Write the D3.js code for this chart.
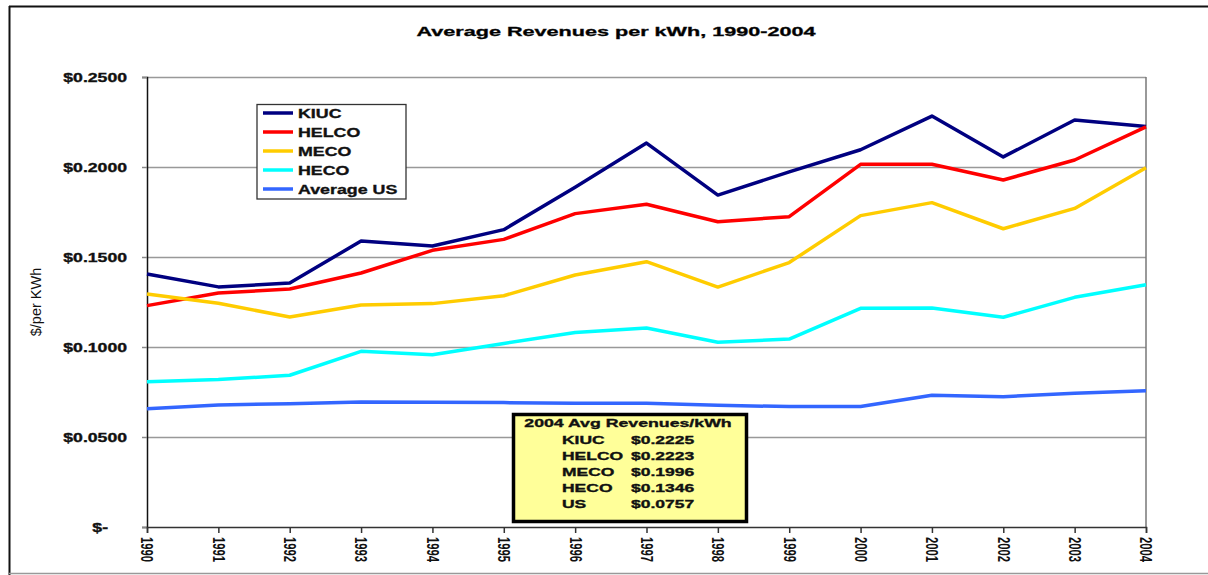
<!DOCTYPE html>
<html>
<head>
<meta charset="utf-8">
<script src="https://cdn.jsdelivr.net/npm/d3@7"></script>
<style>
  body { margin: 0; background: #fff; }
  svg { display: block; font-family: "Liberation Sans", Arial, sans-serif; }
  .heavy { stroke: #111; stroke-width: 0.35px; }
</style>
</head>
<body>
<div id="chart"></div>
<script>
// Data
const years = ["1990", "1991", "1992", "1993", "1994", "1995", "1996", "1997", "1998", "1999", "2000", "2001", "2002", "2003", "2004"];
const kiuc  = [0.1406, 0.1334, 0.1355, 0.1589, 0.1561, 0.1652, 0.1887, 0.2133, 0.1844, 0.1973, 0.2096, 0.2283, 0.2056, 0.2261, 0.2225];
const helco = [0.1230, 0.1300, 0.1322, 0.1411, 0.1537, 0.1598, 0.1741, 0.1793, 0.1696, 0.1724, 0.2015, 0.2015, 0.1928, 0.2039, 0.2223];
const meco  = [0.1294, 0.1243, 0.1167, 0.1233, 0.1241, 0.1285, 0.1400, 0.1474, 0.1333, 0.1469, 0.1730, 0.1802, 0.1657, 0.1770, 0.1996];
const heco  = [0.0807, 0.0819, 0.0843, 0.0976, 0.0957, 0.1020, 0.1080, 0.1106, 0.1026, 0.1044, 0.1215, 0.1217, 0.1165, 0.1276, 0.1346];
const usAvg = [0.0657, 0.0678, 0.0685, 0.0694, 0.0693, 0.0691, 0.0688, 0.0687, 0.0676, 0.0669, 0.0669, 0.0732, 0.0724, 0.0743, 0.0757];

const seriesNames = ["KIUC", "HELCO", "MECO", "HECO", "Average US"];
const seriesColors = ["#000080", "#FF0000", "#FFCC00", "#00FFFF", "#3366FF"];
const seriesValues = [kiuc, helco, meco, heco, usAvg];

const yTicks = [0, 0.05, 0.10, 0.15, 0.20, 0.25];
const yTickLabels = ["$-", "$0.0500", "$0.1000", "$0.1500", "$0.2000", "$0.2500"];

const boxTitle = "2004 Avg Revenues/kWh";
const boxNames = ["KIUC", "HELCO", "MECO", "HECO", "US"];
const boxValues = ["$0.2225", "$0.2223", "$0.1996", "$0.1346", "$0.0757"];

// Layout
const W = 1208, H = 575;
const margin = { top: 77, left: 147 };
const width = 999, height = 450;

const svg = d3.select("#chart").append("svg").attr("width", W).attr("height", H);
svg.append("rect").attr("width", W).attr("height", H).attr("fill", "#fff");

// stretch text horizontally the way the reference does
function stretch(sel, k) {
    sel.each(function() {
        const len = this.getComputedTextLength();
        d3.select(this).attr("textLength", len * k).attr("lengthAdjust", "spacingAndGlyphs");
    });
}

// outer frame
svg.append("line").attr("x1", 9.5).attr("x2", 9.5).attr("y1", 6).attr("y2", H).attr("stroke", "#111").attr("stroke-width", 2);
svg.append("line").attr("x1", 9).attr("x2", W).attr("y1", 6.5).attr("y2", 6.5).attr("stroke", "#111").attr("stroke-width", 2);
svg.append("line").attr("x1", 9).attr("x2", W).attr("y1", 573.5).attr("y2", 573.5).attr("stroke", "#999").attr("stroke-width", 1.5);

// title
svg.append("text").attr("class", "heavy").attr("x", 616).attr("y", 36).attr("text-anchor", "middle")
    .style("font-size", "13.5px").style("font-weight", "bold").text("Average Revenues per kWh, 1990-2004")
    .call(stretch, 1.6);

const g = svg.append("g").attr("transform", `translate(${margin.left},${margin.top})`);

const x = d3.scalePoint().domain(years).range([0, width]);
const y = d3.scaleLinear().domain([0, 0.25]).range([height, 0]);

// gridlines
g.append("g")
    .call(d3.axisLeft(y).tickValues(yTicks.slice(1)).tickSize(-width).tickFormat(""))
    .call(a => a.select(".domain").remove())
    .call(a => a.selectAll(".tick line").attr("stroke", "#999").attr("stroke-width", 1.5));

// right plot border
g.append("line").attr("x1", width).attr("x2", width).attr("y1", 0).attr("y2", height)
    .attr("stroke", "#777").attr("stroke-width", 1.5);

// y axis
const yAxis = g.append("g")
    .call(d3.axisLeft(y).tickValues(yTicks).tickSize(5).tickPadding(15).tickFormat((d, i) => yTickLabels[i]));
yAxis.select(".domain").attr("stroke", "#111").attr("stroke-width", 1.5);
yAxis.selectAll(".tick line").attr("stroke", "#888").attr("stroke-width", 1.5);
yAxis.selectAll(".tick text").attr("class", "heavy").style("font-size", "12.6px").style("font-weight", "bold").attr("fill", "#111")
    .attr("dy", "0.36em")
    .attr("x", (d, i) => i === 0 ? -39 : -20)
    .call(stretch, 1.4);

// y label
svg.append("text").attr("transform", "translate(41,302) rotate(-90)").attr("text-anchor", "middle")
    .style("font-size", "14.5px").attr("fill", "#111").text("$/per KWh");

// x axis
const xAxis = g.append("g").attr("transform", `translate(0,${height})`)
    .call(d3.axisBottom(x).tickSize(6).tickPadding(0));
xAxis.select(".domain").attr("stroke", "#333").attr("stroke-width", 1.5);
xAxis.selectAll(".tick line").attr("stroke", "#333").attr("stroke-width", 1.5);
xAxis.selectAll(".tick text")
    .attr("transform", "translate(0,10) rotate(90)")
    .attr("x", 0).attr("y", 0).attr("dy", "0.36em")
    .attr("text-anchor", "start")
    .style("font-size", "17px").style("font-weight", "bold").attr("fill", "#111")
    .call(stretch, 0.66);

// lines
const line = d3.line().x((d, i) => x(years[i])).y(d => y(d));
seriesValues.forEach((vals, k) => {
    g.append("path").datum(vals).attr("d", line)
        .attr("fill", "none").attr("stroke", seriesColors[k]).attr("stroke-width", 3.5)
        .attr("stroke-linejoin", "round");
});

// legend
const legend = svg.append("g").attr("transform", "translate(257,104.5)");
legend.append("rect").attr("width", 149).attr("height", 94.5)
    .attr("fill", "#fff").attr("stroke", "#333").attr("stroke-width", 1.3);
seriesNames.forEach((name, i) => {
    const row = legend.append("g").attr("transform", `translate(0,${8.5 + i * 19})`);
    row.append("line").attr("x1", 6).attr("x2", 36).attr("stroke", seriesColors[i]).attr("stroke-width", 3.5);
    row.append("text").attr("class", "heavy").attr("x", 41).attr("y", 5).style("font-size", "13px").style("font-weight", "bold")
        .attr("fill", "#111").text(name).call(stretch, 1.37);
});

// 2004 summary box
const box = svg.append("g");
box.append("rect").attr("x", 513.5).attr("y", 414.5).attr("width", 233).attr("height", 107)
    .attr("fill", "#FFFF99").attr("stroke", "#000").attr("stroke-width", 3.5);
box.append("text").attr("class", "heavy").attr("x", 628).attr("y", 427).attr("text-anchor", "middle")
    .style("font-size", "11.5px").style("font-weight", "bold").attr("fill", "#111").text(boxTitle)
    .call(stretch, 1.54);
boxNames.forEach((name, i) => {
    box.append("text").attr("class", "heavy").attr("x", 562).attr("y", 443.5 + i * 16)
        .style("font-size", "11.5px").style("font-weight", "bold").attr("fill", "#111").text(name)
        .call(stretch, 1.52);
    box.append("text").attr("class", "heavy").attr("x", 631).attr("y", 443.5 + i * 16)
        .style("font-size", "11.5px").style("font-weight", "bold").attr("fill", "#111").text(boxValues[i])
        .call(stretch, 1.52);
});
</script>
</body>
</html>
